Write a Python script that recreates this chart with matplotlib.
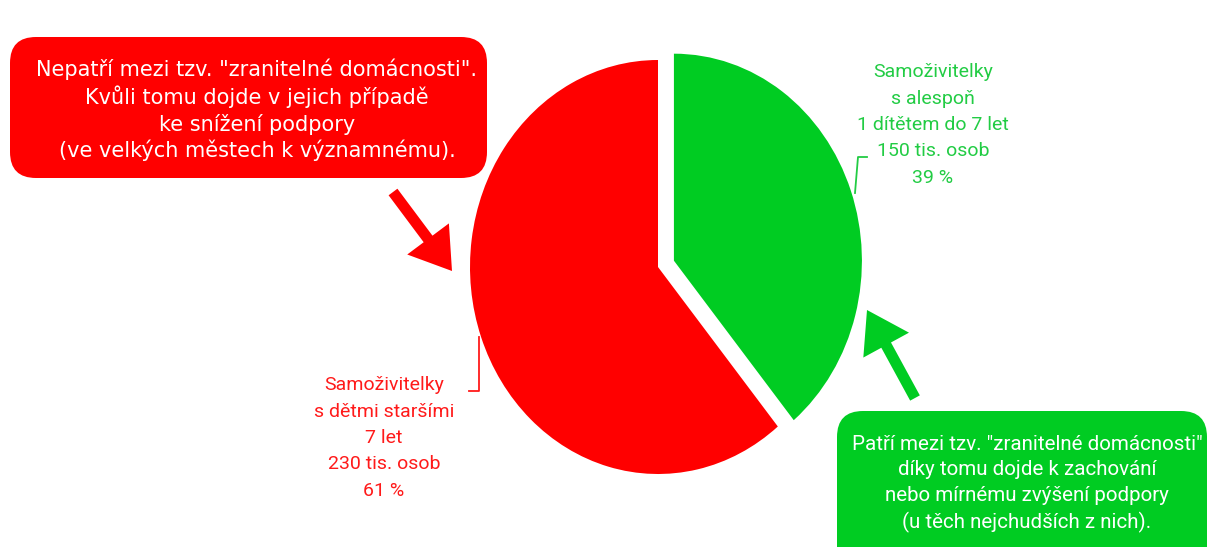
import matplotlib
matplotlib.use("Agg")
import matplotlib.pyplot as plt
from matplotlib.patches import FancyBboxPatch, FancyArrow

# data
categories = ["Samoživitelky\ns alespoň\n1 dítětem do 7 let", "Samoživitelky\ns dětmi staršími\n7 let"]
persons_k = [150, 230]
shares = [39, 61]
colors = ["#00CC22", "#FF0000"]
text_colors = ["#22CC44", "#FF1A1A"]

red_note = ('Nepatří mezi tzv. "zranitelné domácnosti".\n'
            "Kvůli tomu dojde v jejich případě\n"
            "ke snížení podpory\n"
            "(ve velkých městech k významnému).")
green_note = ('Patří mezi tzv. "zranitelné domácnosti"\n'
              "díky tomu dojde k zachování\n"
              "nebo mírnému zvýšení podpory\n"
              "(u těch nejchudších z nich).")

W, H = 1209, 547
fig = plt.figure(figsize=(W / 100, H / 100), dpi=100)

# pie in its own axes, slightly taller than wide like the original
cx, cy, rx, ry = 658, 267, 188, 207
pad = 1.2
pie_ax = fig.add_axes([(cx - pad * rx) / W, 1 - (cy + pad * ry) / H,
                       2 * pad * rx / W, 2 * pad * ry / H])
pie_ax.pie(shares, colors=colors, startangle=90, counterclock=False,
           explode=[0.09, 0], wedgeprops={"linewidth": 0})
pie_ax.set_aspect("auto")
pie_ax.set_xlim(-pad, pad)
pie_ax.set_ylim(-pad, pad)
pie_ax.axis("off")

# overlay in pixel coordinates
ax = fig.add_axes([0, 0, 1, 1])
ax.set_xlim(0, W)
ax.set_ylim(H, 0)
ax.axis("off")
ax.patch.set_alpha(0)

# note boxes
ax.add_patch(FancyBboxPatch((10, 37), 477, 141, boxstyle="round,pad=0,rounding_size=26",
                            fc="#FF0000", ec="none"))
ax.text(257, 110, red_note, ha="center", va="center", color="white",
        fontsize=15, family="DejaVu Sans", linespacing=1.3)

ax.add_patch(FancyBboxPatch((837, 411), 370, 170, boxstyle="round,pad=0,rounding_size=26",
                            fc="#00CC22", ec="none"))
ax.text(1027, 484, green_note, ha="center", va="center", color="white",
        fontsize=14.8, family="Roboto", linespacing=1.45)

# slice labels
green_lbl = f"{categories[0]}\n{persons_k[0]} tis. osob\n{shares[0]} %"
red_lbl = f"{categories[1]}\n{persons_k[1]} tis. osob\n{shares[1]} %"
ax.text(933, 125, green_lbl, ha="center", va="center", color=text_colors[0],
        fontsize=14, family="Roboto", linespacing=1.6)
ax.text(384, 438, red_lbl, ha="center", va="center", color=text_colors[1],
        fontsize=14, family="Roboto", linespacing=1.6)

# leader lines
ax.plot([469, 479, 479], [391, 391, 337], color=text_colors[1], lw=1.3)
ax.plot([855, 858, 867], [193, 157, 157], color=text_colors[0], lw=1.3)

# arrows
ax.add_patch(FancyArrow(393, 192, 452 - 393, 271 - 192, width=11, head_width=52,
                        head_length=40, length_includes_head=True, fc="#FF0000", ec="none"))
ax.add_patch(FancyArrow(915, 398, 867 - 915, 310 - 398, width=11, head_width=52,
                        head_length=40, length_includes_head=True, fc="#00CC22", ec="none"))

fig.savefig("out.png", dpi=100)
